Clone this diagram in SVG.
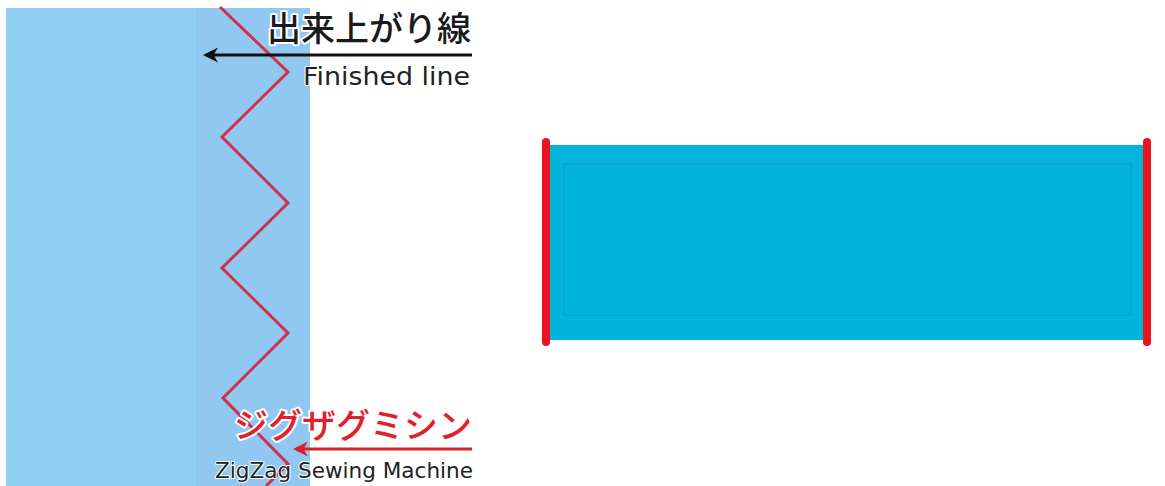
<svg xmlns="http://www.w3.org/2000/svg" width="1165" height="486" viewBox="0 0 1165 486">
<defs>
<marker id="ab" viewBox="0 0 10 10" refX="8" refY="5" markerWidth="5" markerHeight="5" orient="auto" markerUnits="strokeWidth">
<path d="M10,5 L0,0 L3,5 L0,10 Z" fill="#111"/>
</marker>
<marker id="ar" viewBox="0 0 10 10" refX="8" refY="5" markerWidth="5" markerHeight="5" orient="auto" markerUnits="strokeWidth">
<path d="M10,5 L0,0 L3,5 L0,10 Z" fill="#d8202c"/>
</marker>
</defs>
<style>
.jp{font-family:"Noto Sans CJK JP","Noto Sans",sans-serif;font-weight:500;paint-order:stroke;stroke:#fff;stroke-width:4px;stroke-linejoin:round}
.en{font-family:"DejaVu Sans","Noto Sans",sans-serif;paint-order:stroke;stroke:#fff;stroke-width:2px;stroke-linejoin:round}
</style>
<rect width="1165" height="486" fill="#fff"/>
<g id="fabric">
<rect x="6" y="8" width="304" height="478" fill="#90cff4"/>
<rect x="197" y="8" width="113" height="478" fill="#90c8f2"/>
<line x1="197" y1="8" x2="197" y2="486" stroke="#86c2ea" stroke-width="1"/>
</g>
<g id="zigzag">
<polyline points="220,7 288,72 222,137 288,203 222,268 288,333 223,398 288,464 266,486" fill="none" stroke="#d23048" stroke-width="3" stroke-linejoin="miter"/>
</g>
<g id="connectors">
<line x1="472" y1="55" x2="206" y2="55" stroke="#111" stroke-width="3" marker-end="url(#ab)"/>
<line x1="472" y1="449" x2="296" y2="449" stroke="#d8202c" stroke-width="3" marker-end="url(#ar)"/>
</g>
<g id="label-finished">
<text class="jp" x="471" y="41" font-size="34" fill="#1a1a1a" text-anchor="end">出来上がり線</text>
<text class="en" x="303" y="85" font-size="25" fill="#222" textLength="167" lengthAdjust="spacingAndGlyphs">Finished line</text>
</g>
<g id="label-zigzag">
<text class="jp" x="472" y="438" font-size="34" fill="#e0202c" text-anchor="end">ジグザグミシン</text>
<text class="en" x="215" y="478" font-size="21" fill="#222" textLength="258" lengthAdjust="spacingAndGlyphs">ZigZag Sewing Machine</text>
</g>
<g id="tube">
<rect x="549" y="145" width="595" height="195" fill="#02b3dc"/>
<rect x="564" y="164" width="567" height="151" fill="none" stroke="#0aa0c4" stroke-width="1.2"/>
<line x1="546" y1="142" x2="546" y2="342" stroke="#e8141e" stroke-width="8" stroke-linecap="round"/>
<line x1="1147" y1="142" x2="1147" y2="342" stroke="#e8141e" stroke-width="8" stroke-linecap="round"/>
</g>
</svg>
